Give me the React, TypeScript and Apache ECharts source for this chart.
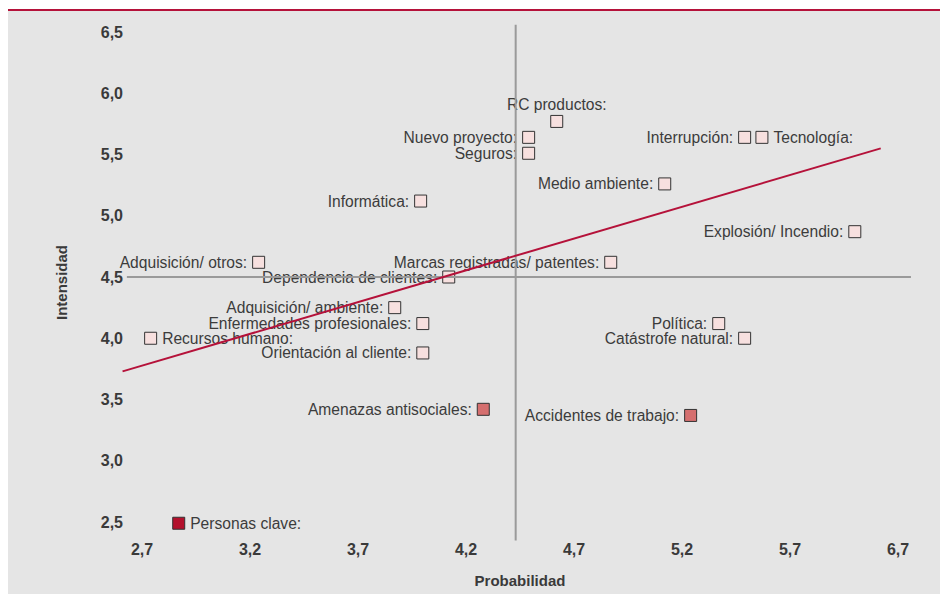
import React, { useEffect, useRef } from "react";
import * as echarts from "echarts";

// ---- data ----
const riskNames = [
  "RC productos",
  "Nuevo proyecto",
  "Seguros",
  "Interrupción",
  "Tecnología",
  "Medio ambiente",
  "Informática",
  "Explosión/ Incendio",
  "Adquisición/ otros",
  "Marcas registradas/ patentes",
  "Dependencia de clientes",
  "Adquisición/ ambiente",
  "Enfermedades profesionales",
  "Recursos humano",
  "Orientación al cliente",
  "Amenazas antisociales",
  "Accidentes de trabajo",
  "Política",
  "Catástrofe natural",
  "Personas clave",
];
const probabilidad = [
  4.62, 4.49, 4.49, 5.49, 5.57, 5.12, 3.99, 6.0, 3.24, 4.87,
  4.12, 3.87, 4.0, 2.74, 4.0, 4.28, 5.24, 5.37, 5.49, 2.87,
];
const intensidad = [
  5.77, 5.64, 5.51, 5.64, 5.64, 5.26, 5.12, 4.87, 4.62, 4.62,
  4.5, 4.25, 4.12, 4.0, 3.88, 3.42, 3.37, 4.12, 4.0, 2.49,
];
// 0 = low, 1 = elevated, 2 = critical
const riskLevel = [0, 0, 0, 0, 0, 0, 0, 0, 0, 0, 0, 0, 0, 0, 0, 1, 1, 0, 0, 2];

const thresholdProbabilidad = 4.43;
const thresholdIntensidad = 4.5;
const vLineSpan = [2.35, 6.56];
const hLineSpan = [2.63, 6.26];
const trendX = [2.61, 6.12];
const trendY = [3.73, 5.55];

const xTickValues = [2.7, 3.2, 3.7, 4.2, 4.7, 5.2, 5.7, 6.2];
const xTickLabels = ["2,7", "3,2", "3,7", "4,2", "4,7", "5,2", "5,7", "6,7"];
const yTickValues = [2.5, 3.0, 3.5, 4.0, 4.5, 5.0, 5.5, 6.0, 6.5];
const yTickLabels = ["2,5", "3,0", "3,5", "4,0", "4,5", "5,0", "5,5", "6,0", "6,5"];

const xRange = [2.6, 6.3];
const yRange = [2.35, 6.56];

// ---- styling ----
const levelColors = ["#f7e0df", "#d56f6f", "#b3102c"];
const labelRight = new Set(["Tecnología", "Recursos humano", "Personas clave"]);
const labelTop = new Set(["RC productos"]);
const FONT = "Liberation Sans, Arial, sans-serif";

const tickText = (values: number[], labels: string[]) => (v: number) => {
  const i = values.findIndex((t) => Math.abs(t - v) < 1e-6);
  return i >= 0 ? labels[i] : "";
};

export default function App() {
  const ref = useRef<HTMLDivElement>(null);

  useEffect(() => {
    if (!ref.current) return;
    const chart = echarts.init(ref.current, null, { renderer: "svg" });

    const scatterData = riskNames.map((n, i) => ({
      name: n,
      value: [probabilidad[i], intensidad[i]],
      itemStyle: { color: levelColors[riskLevel[i]] },
      label: labelTop.has(n)
        ? { position: "top", distance: 3 }
        : { position: labelRight.has(n) ? "right" : "left" },
    }));

    chart.setOption({
      animation: false,
      backgroundColor: "#e5e5e5",
      textStyle: { fontFamily: FONT },
      graphic: [
        { type: "rect", shape: { x: 0, y: 0, width: 940, height: 9 }, style: { fill: "#ffffff" } },
        { type: "rect", shape: { x: 0, y: 0, width: 8, height: 594 }, style: { fill: "#ffffff" } },
        { type: "rect", shape: { x: 8, y: 9, width: 932, height: 2 }, style: { fill: "#b5123a" } },
      ],
      grid: { left: 120.4, right: 20.4, top: 24.65, bottom: 53.6, containLabel: false },
      xAxis: {
        type: "value",
        min: xRange[0],
        max: xRange[1],
        name: "Probabilidad",
        nameLocation: "middle",
        nameGap: 33,
        nameTextStyle: { fontSize: 15, fontWeight: "bold", color: "#3a3a3a", fontFamily: FONT },
        axisLine: { show: false },
        axisTick: { show: false },
        splitLine: { show: false },
        axisLabel: {
          customValues: xTickValues,
          margin: 1,
          fontSize: 16,
          fontWeight: "bold",
          color: "#3a3a3a",
          fontFamily: FONT,
          formatter: tickText(xTickValues, xTickLabels),
        },
      },
      yAxis: {
        type: "value",
        min: yRange[0],
        max: yRange[1],
        name: "Intensidad",
        nameLocation: "middle",
        nameGap: 51,
        nameTextStyle: { fontSize: 15, fontWeight: "bold", color: "#3a3a3a", fontFamily: FONT },
        axisLine: { show: false },
        axisTick: { show: false },
        splitLine: { show: false },
        axisLabel: {
          customValues: yTickValues,
          margin: -2.6,
          fontSize: 16,
          fontWeight: "bold",
          color: "#3a3a3a",
          fontFamily: FONT,
          formatter: tickText(yTickValues, yTickLabels),
        },
      },
      series: [
        {
          type: "scatter",
          symbol: "rect",
          symbolSize: 12,
          z: 2,
          clip: false,
          itemStyle: { borderColor: "#333333", borderWidth: 1, opacity: 1 },
          label: {
            show: true,
            formatter: "{b}:",
            fontSize: 15.6,
            lineHeight: 14,
            color: "#3c3c3c",
            fontFamily: FONT,
            distance: 5,
          },
          emphasis: { disabled: true },
          data: scatterData,
        },
        {
          type: "line",
          z: 5,
          silent: true,
          clip: false,
          symbol: "none",
          lineStyle: { color: "#9a9a9a", width: 2 },
          data: [
            [thresholdProbabilidad, vLineSpan[0]],
            [thresholdProbabilidad, vLineSpan[1]],
          ],
        },
        {
          type: "line",
          z: 5,
          silent: true,
          clip: false,
          symbol: "none",
          lineStyle: { color: "#9a9a9a", width: 2 },
          data: [
            [hLineSpan[0], thresholdIntensidad],
            [hLineSpan[1], thresholdIntensidad],
          ],
        },
        {
          type: "line",
          z: 6,
          silent: true,
          clip: false,
          symbol: "none",
          lineStyle: { color: "#b5123a", width: 2 },
          data: [
            [trendX[0], trendY[0]],
            [trendX[1], trendY[1]],
          ],
        },
      ],
    });

    return () => chart.dispose();
  }, []);

  return (
    <div
      ref={ref}
      style={{ position: "absolute", left: 0, top: 0, width: 940, height: 594 }}
    />
  );
}
